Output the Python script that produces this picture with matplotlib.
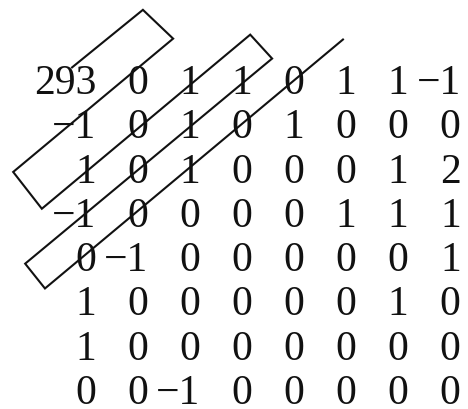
import matplotlib
matplotlib.use("Agg")
import matplotlib.pyplot as plt

# 8x8 block of quantised coefficients
matrix = [
    [293, 0, 1, 1, 0, 1, 1, -1],
    [-1, 0, 1, 0, 1, 0, 0, 0],
    [1, 0, 1, 0, 0, 0, 1, 2],
    [-1, 0, 0, 0, 0, 1, 1, 1],
    [0, -1, 0, 0, 0, 0, 0, 1],
    [1, 0, 0, 0, 0, 0, 1, 0],
    [1, 0, 0, 0, 0, 0, 0, 0],
    [0, 0, -1, 0, 0, 0, 0, 0],
]

# zigzag scan path, in cell units (column, row)
path_cols = [-0.46, 0.90, 1.48, -1.59, -1.04, 2.96, 3.38, -1.36, -0.98, 4.74]
path_rows = [-0.60, -1.90, -1.25, 1.76, 2.59, -1.34, -0.80, 3.83, 4.39, -1.23]

fig = plt.figure(figsize=(4.68, 4.09), dpi=100)
ax = fig.add_axes([0, 0, 1, 1])
# pixel x = 96 + 52.1*col (right edge), pixel y = 94 + 44.3*row (baseline)
ax.set_xlim(-1.843, 7.140)
ax.set_ylim(7.111, -2.122)
ax.axis("off")

for r, row in enumerate(matrix):
    for c, v in enumerate(row):
        s = str(v).replace("-", "\u2212")
        ax.text(c, r, s, ha="right", va="baseline", fontsize=30,
                family="Liberation Serif", color="#111111")

ax.plot(path_cols, path_rows, color="#111111", lw=1.5,
        solid_joinstyle="miter")

fig.savefig("out.png", dpi=100)
